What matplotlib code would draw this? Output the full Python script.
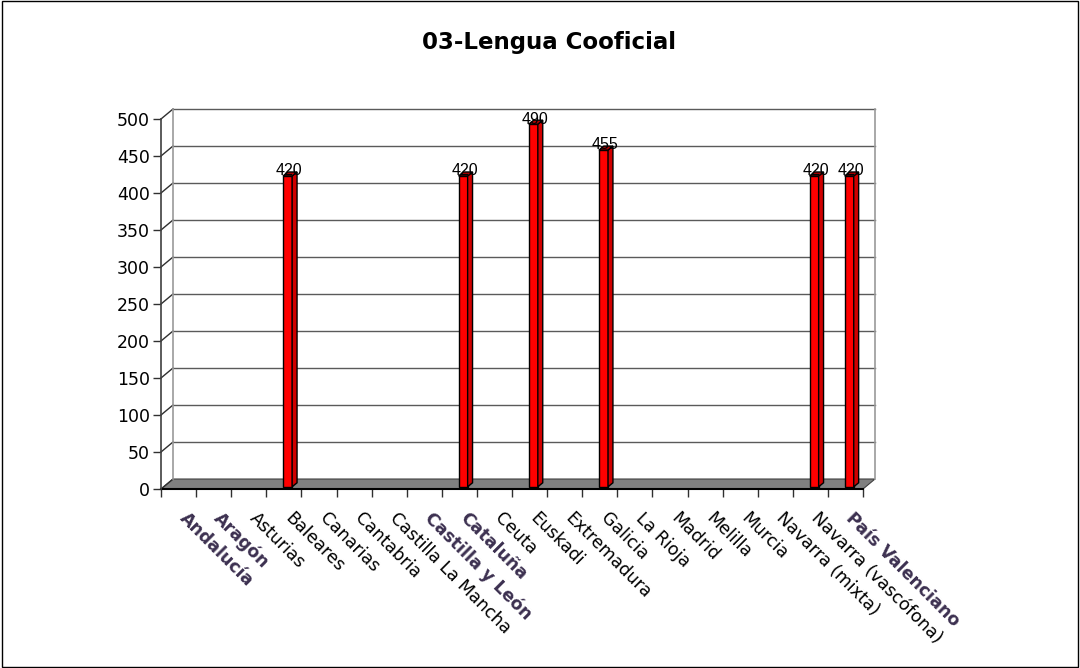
import numpy as np
import matplotlib
matplotlib.use("Agg")
import matplotlib.pyplot as plt
from matplotlib.patches import Polygon, Rectangle

regions = ["Andalucía", "Aragón", "Asturias", "Baleares", "Canarias", "Cantabria",
           "Castilla La Mancha", "Castilla y León", "Cataluña", "Ceuta", "Euskadi",
           "Extremadura", "Galicia", "La Rioja", "Madrid", "Melilla", "Murcia",
           "Navarra (mixta)", "Navarra (vascófona)", "País Valenciano"]
values = [0, 0, 0, 420, 0, 0, 0, 0, 420, 0, 490, 0, 455, 0, 0, 0, 0, 0, 420, 420]
boldLabels = ["Andalucía", "Aragón", "Castilla y León", "Cataluña", "País Valenciano"]
yTicks = list(range(0, 501, 50))

fig = plt.figure(figsize=(10.8, 6.68), dpi=100)
ax = fig.add_axes([161/1080, (668-489)/668, 702/1080, 370/668])
n = len(regions)
ax.set_xlim(0, n)
ax.set_ylim(0, 500)
for s in ax.spines.values():
    s.set_visible(False)

# depth of the fake 3d box, in data units
DX = 12/35.1
DY = 13.5

# floor
ax.add_patch(Polygon([(0, 0), (n, 0), (n+DX, DY), (DX, DY)], closed=True,
                     facecolor="#808080", edgecolor="#404040", lw=0.8, clip_on=False, zorder=1))
ax.plot([0, n], [0, 0], color="black", lw=1.5, clip_on=False, zorder=2)

# back wall grid
for y in yTicks[1:]:
    ax.plot([DX, n+DX], [y+DY, y+DY], color="#5a5a5a", lw=1, clip_on=False, zorder=1)
    ax.plot([0, DX], [y, y+DY], color="#303030", lw=1, clip_on=False, zorder=1)
ax.plot([0, DX], [0, DY], color="#303030", lw=1, clip_on=False, zorder=1)
ax.plot([DX, DX], [DY, 500+DY], color="#9a9a9a", lw=1.2, clip_on=False, zorder=1)
ax.plot([n+DX, n+DX], [DY, 500+DY], color="#9a9a9a", lw=1.2, clip_on=False, zorder=1)
ax.plot([0, 0], [0, 500], color="#404040", lw=1.2, clip_on=False, zorder=2)

# bars with a small side and top face (only the non zero ones show up)
idx = np.array([i for i, v in enumerate(values) if v > 0])
vals = np.array([values[i] for i in idx])
x = idx + 0.476
w = 0.26
base = 3
bdx, bdy = 0.14, 5.4
ax.bar(x, vals, width=w, bottom=base, align="edge", color="#ff0000",
       edgecolor="black", lw=1, zorder=3)
for xi, v in zip(x, vals):
    ax.add_patch(Polygon([(xi+w, base), (xi+w+bdx, base+bdy), (xi+w+bdx, base+v+bdy), (xi+w, base+v)],
                         closed=True, facecolor="#d00000", edgecolor="black", lw=1, zorder=3))
    ax.add_patch(Polygon([(xi, base+v), (xi+bdx, base+v+bdy), (xi+w+bdx, base+v+bdy), (xi+w, base+v)],
                         closed=True, facecolor="#b00000", edgecolor="black", lw=1, zorder=3))
    ax.text(xi+w/2+0.05, v+10, "{}".format(v), ha="center", va="center",
            fontsize=11.5, family="Liberation Sans", zorder=4)

ax.set_yticks(yTicks)
ax.tick_params(axis="y", length=6, width=1, color="#303030", labelsize=12.5, pad=2)
ax.set_xticks(np.arange(n+1))
ax.set_xticklabels([])
ax.tick_params(axis="x", length=6, width=1, color="#303030")

for i, name in enumerate(regions):
    bold = name in boldLabels
    ax.text(i + 0.5 + 0.28, -27, name, rotation=-45, rotation_mode="anchor",
            ha="left", va="top", fontsize=12.5,
            fontweight="bold" if bold else "normal",
            color="#3c3050" if bold else "black", clip_on=False)

fig.text(549/1080, 1 - 42/668, "03-Lengua Cooficial", ha="center", va="center",
         fontsize=16.5, fontweight="bold")
fig.add_artist(Rectangle((0.0015, 0.002), 0.997, 0.996, transform=fig.transFigure,
                         fill=False, edgecolor="black", lw=1))

plt.savefig("out.png", dpi=100)
